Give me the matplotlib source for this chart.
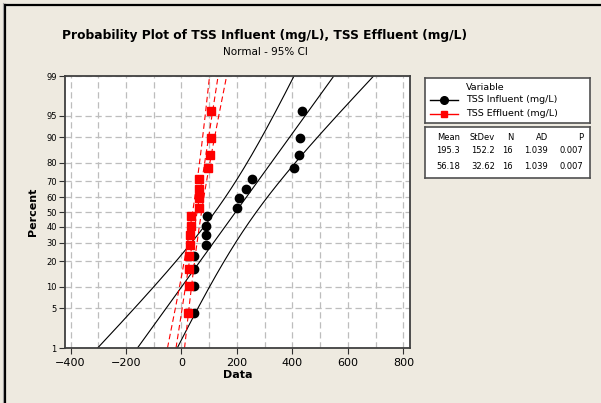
"""
Normal probability plot of TSS influent and effluent with 95% CI bands.
"""

from statistics import NormalDist

import numpy as np
import matplotlib
matplotlib.use("Agg")
import matplotlib.pyplot as plt
from matplotlib.lines import Line2D

# ordered sample values (mg/L)
TSS_INFLUENT = [45, 45, 45, 45, 87, 90, 90, 93, 201, 206, 232, 255, 404, 423, 429, 434]
TSS_EFFLUENT = [24, 27, 27, 27, 29, 29, 34, 34, 63, 63, 63, 63, 96, 103, 108, 108]

SERIES_NAMES = ["TSS Influent (mg/L)", "TSS Effluent (mg/L)"]
MEANS = [195.3, 56.18]
STDEVS = [152.2, 32.62]
N_VALUES = [16, 16]
AD_VALUES = ["1.039", "1.039"]
P_VALUES = ["0.007", "0.007"]

PERCENT_TICKS = [1, 5, 10, 20, 30, 40, 50, 60, 70, 80, 90, 95, 99]
DATA_TICKS = [-400, -200, 0, 200, 400, 600, 800]

BG = "#EEEAE0"
W, H = 601, 403
nd = NormalDist()


def fx(px):
    return px / W


def fy(py):
    return 1 - py / H


def create_probability_plot() -> None:
    fig = plt.figure(figsize=(6.01, 4.03), dpi=100, facecolor=BG)
    ax = fig.add_axes([fx(65), fy(348), fx(410) - fx(65), fy(76) - fy(348)])
    ax.set_facecolor("white")

    zlo, zhi = nd.inv_cdf(0.01), nd.inv_cdf(0.99)
    zz = np.linspace(zlo, zhi, 200)

    styles = [
        dict(color="black", marker="o", ms=6, ls="-", lw=0.8),
        dict(color="#FF0000", marker="s", ms=5.5, ls=(0, (5, 3)), lw=0.8),
    ]
    for data, mean, sd, st in zip([TSS_INFLUENT, TSS_EFFLUENT], MEANS, STDEVS, styles):
        n = len(data)
        pos = [(i + 1 - 0.3) / (n + 0.4) for i in range(n)]
        zpts = [nd.inv_cdf(p) for p in pos]
        fit = mean + sd * zz
        half = 1.96 * sd * np.sqrt(1 / n + zz ** 2 / (2 * n))
        for xs in (fit - half, fit, fit + half):
            ax.plot(xs, zz, color=st["color"], ls=st["ls"], lw=st["lw"], zorder=2)
        ax.plot(sorted(data), zpts, ls="none", marker=st["marker"], ms=st["ms"],
                color=st["color"], zorder=3)

    ax.set_xlim(-420, 824)
    ax.set_ylim(zlo, zhi)
    ax.set_xticks(DATA_TICKS)
    ax.set_xticks(np.arange(-400, 801, 100), minor=True)
    ax.set_yticks([nd.inv_cdf(p / 100) for p in PERCENT_TICKS])
    ax.set_yticklabels([str(p) for p in PERCENT_TICKS])
    ax.tick_params(axis="x", which="major", labelsize=8, length=4, color="#303030")
    ax.tick_params(axis="x", which="minor", length=0)
    ax.tick_params(axis="y", labelsize=6, length=4, color="#303030", pad=2)
    ax.grid(True, which="both", color="#BDBDBD", ls=(0, (5, 3)), lw=0.9, zorder=0)
    ax.set_axisbelow(True)
    for sp in ax.spines.values():
        sp.set_color("#404040")
        sp.set_linewidth(1.3)

    ax.set_xlabel("Data", fontsize=8, fontweight="bold", labelpad=1)
    ax.set_ylabel("Percent", fontsize=8, fontweight="bold", labelpad=6)

    fig.text(fx(265), fy(35), "Probability Plot of TSS Influent (mg/L), TSS Effluent (mg/L)",
             ha="center", va="center", fontsize=8.8, fontweight="bold")
    fig.text(fx(265), fy(52), "Normal - 95% CI", ha="center", va="center", fontsize=7.5)

    # legend box
    lg = fig.add_axes([fx(425), fy(123), fx(590) - fx(425), fy(78) - fy(123)])
    lg.set_xlim(425, 590)
    lg.set_ylim(123, 78)
    lg.set_xticks([])
    lg.set_yticks([])
    for sp in lg.spines.values():
        sp.set_color("#505050")
        sp.set_linewidth(1.2)
    lg.text(466, 87, "Variable", fontsize=6.8, va="center")
    for name, st, yy in zip(SERIES_NAMES, styles, [100, 114]):
        lg.add_line(Line2D([430, 458], [yy, yy], color=st["color"], lw=1.0))
        lg.plot([444], [yy], marker=st["marker"], ms=st["ms"] - 0.5, color=st["color"])
        lg.text(466, yy, name, fontsize=6.8, va="center")

    # statistics box
    tb = fig.add_axes([fx(425), fy(178), fx(590) - fx(425), fy(127) - fy(178)])
    tb.set_xlim(425, 590)
    tb.set_ylim(178, 127)
    tb.set_xticks([])
    tb.set_yticks([])
    for sp in tb.spines.values():
        sp.set_color("#505050")
        sp.set_linewidth(1.2)
    col_x = [460, 495, 513, 548, 583]
    header = ["Mean", "StDev", "N", "AD", "P"]
    for cx, h in zip(col_x, header):
        tb.text(cx, 137, h, ha="right", va="center", fontsize=6)
    for row, yy in zip(range(2), [151, 167]):
        vals = [f"{MEANS[row]:g}", f"{STDEVS[row]:g}", str(N_VALUES[row]),
                AD_VALUES[row], P_VALUES[row]]
        for cx, v in zip(col_x, vals):
            tb.text(cx, yy, v, ha="right", va="center", fontsize=6)

    # frame at top and left of the window
    fig.add_artist(Line2D([fx(5), 1.01], [fy(4.5), fy(4.5)], color="black", lw=1.6))
    fig.add_artist(Line2D([fx(5), fx(5)], [-0.01, fy(4.5)], color="black", lw=1.6))
    fig.add_artist(Line2D([fx(3), fx(3)], [-0.01, fy(3)], color="#A0A0A0", lw=0.8))

    fig.savefig("out.png", dpi=100, facecolor=BG)


if __name__ == "__main__":
    create_probability_plot()
